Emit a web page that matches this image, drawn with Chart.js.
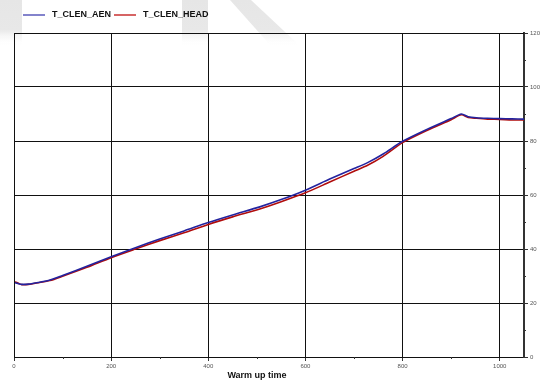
<!DOCTYPE html>
<html>
<head>
<meta charset="utf-8">
<script src="https://cdn.jsdelivr.net/npm/chart.js@4/dist/chart.umd.min.js"></script>
<style>
  html, body { margin: 0; padding: 0; background: #fff; }
  #wrap { width: 547px; height: 382px; position: relative; }
</style>
</head>
<body>
<div id="wrap"><canvas id="c" width="547" height="382"></canvas></div>
<script>
// Warm-up run: sample times and the two clean-side temperature channels
const times = [0, 8, 16, 30, 50, 74, 100, 150, 200, 250, 300, 350, 400, 450, 506, 550, 600, 650, 700, 728, 760, 800, 850, 900, 921, 935, 952, 975, 1000, 1025, 1050];
const tClenAen = [27.6, 27.2, 26.9, 27.0, 27.6, 28.5, 30.2, 33.6, 37.1, 40.5, 43.7, 46.7, 49.8, 52.6, 55.6, 58.3, 61.8, 65.9, 69.8, 72.0, 75.2, 79.9, 84.3, 88.3, 90.0, 89.0, 88.6, 88.4, 88.3, 88.2, 88.1];
const tClenHead = [27.9, 27.4, 26.8, 26.9, 27.5, 28.3, 29.9, 33.2, 36.8, 40.0, 43.1, 46.0, 49.1, 51.9, 54.8, 57.5, 60.8, 64.8, 68.8, 71.0, 74.3, 79.4, 83.9, 87.9, 89.7, 88.7, 88.4, 88.1, 88.0, 87.8, 87.8];

const seriesNames = ['T_CLEN_AEN', 'T_CLEN_HEAD'];
const seriesColors = ['#23239f', '#b00c0c'];
const legendColors = ['#4040b0', '#c01010'];

const xMajorStep = 200, xMinorStep = 100;
const yMajorStep = 20, yMinorStep = 10;
const xTitle = 'Warm up time';

const FONT = '"Liberation Sans", Arial, Helvetica, sans-serif';

const toPoints = (vals) => times.map((t, i) => ({ x: t, y: vals[i] }));

const decor = {
  id: 'decor',
  beforeDraw(chart) {
    const ctx = chart.ctx;
    ctx.save();
    // faint background lettering at the top of the sheet
    const g = ctx.createLinearGradient(0, 0, 0, 46);
    g.addColorStop(0, '#e6e6e6');
    g.addColorStop(0.65, '#e8e8e8');
    g.addColorStop(1, 'rgba(255,255,255,0)');
    ctx.fillStyle = g;
    ctx.fillRect(0, 0, 22, 46);
    ctx.fillRect(182, 0, 26, 46);
    ctx.beginPath();
    ctx.moveTo(230, 0);
    ctx.lineTo(251, 0);
    ctx.lineTo(300, 46);
    ctx.lineTo(271, 46);
    ctx.closePath();
    ctx.fill();
    ctx.restore();
  },
  afterDraw(chart) {
    const ctx = chart.ctx;
    const a = chart.chartArea;
    const xs = chart.scales.x, ys = chart.scales.y;
    ctx.save();
    // frame: left and top edges
    ctx.strokeStyle = '#111';
    ctx.lineWidth = 1;
    ctx.beginPath();
    ctx.moveTo(Math.round(a.left) + 0.5, a.top);
    ctx.lineTo(Math.round(a.left) + 0.5, a.bottom);
    ctx.moveTo(a.left, Math.round(a.top) + 0.5);
    ctx.lineTo(a.right, Math.round(a.top) + 0.5);
    ctx.stroke();

    // minor tick marks
    ctx.strokeStyle = '#333';
    ctx.beginPath();
    for (let v = xMinorStep; v < xs.max; v += xMajorStep) {
      const px = Math.round(xs.getPixelForValue(v)) + 0.5;
      ctx.moveTo(px, a.bottom);
      ctx.lineTo(px, a.bottom + 2);
    }
    for (let v = yMinorStep; v < ys.max; v += yMajorStep) {
      const py = Math.round(ys.getPixelForValue(v)) + 0.5;
      ctx.moveTo(a.right, py);
      ctx.lineTo(a.right + 2, py);
    }
    ctx.stroke();

    // legend
    ctx.font = 'bold 9px ' + FONT;
    ctx.textBaseline = 'middle';
    let lx = 23;
    const ly = 15;
    chart.data.datasets.forEach((ds, i) => {
      ctx.strokeStyle = legendColors[i];
      ctx.lineWidth = 1.3;
      ctx.beginPath();
      ctx.moveTo(lx, ly);
      ctx.lineTo(lx + 22, ly);
      ctx.stroke();
      ctx.fillStyle = '#111';
      ctx.fillText(ds.label, lx + 29, ly);
      lx += 29 + ctx.measureText(ds.label).width + 3;
    });

    // x axis title
    ctx.font = 'bold 9px ' + FONT;
    ctx.textAlign = 'center';
    ctx.fillStyle = '#111';
    ctx.fillText(xTitle, 257, 376);
    ctx.restore();
  }
};

new Chart(document.getElementById('c'), {
  type: 'line',
  data: {
    datasets: [
      { label: seriesNames[0], data: toPoints(tClenAen), borderColor: seriesColors[0], backgroundColor: seriesColors[0], borderWidth: 1.6, pointRadius: 0, tension: 0.25, fill: false },
      { label: seriesNames[1], data: toPoints(tClenHead), borderColor: seriesColors[1], backgroundColor: seriesColors[1], borderWidth: 1.6, pointRadius: 0, tension: 0.25, fill: false }
    ]
  },
  options: {
    responsive: false,
    animation: false,
    devicePixelRatio: 1,
    layout: { padding: { left: 14, top: 33, right: 0, bottom: 0 } },
    plugins: { legend: { display: false }, tooltip: { enabled: false } },
    scales: {
      x: {
        type: 'linear',
        min: 0,
        max: 1050,
        afterFit: (s) => { s.height = 25; },
        border: { display: true, color: '#111', width: 1 },
        grid: {
          color: (c) => (c.tick && c.tick.value % xMajorStep === 0 ? '#111' : 'rgba(0,0,0,0)'),
          tickColor: (c) => (c.tick && c.tick.value % xMajorStep === 0 ? '#333' : 'rgba(0,0,0,0)'),
          tickLength: 4,
          lineWidth: 1
        },
        ticks: {
          stepSize: xMinorStep,
          autoSkip: false,
          maxRotation: 0,
          padding: 2,
          color: '#555',
          font: { family: FONT, size: 6 },
          callback: (v) => (v % xMajorStep === 0 ? String(v) : '')
        }
      },
      y: {
        type: 'linear',
        position: 'right',
        min: 0,
        max: 120,
        afterFit: (s) => { s.width = 23; },
        border: { display: true, color: '#333', width: 2 },
        grid: {
          color: (c) => (c.tick && c.tick.value % yMajorStep === 0 ? '#111' : 'rgba(0,0,0,0)'),
          tickColor: (c) => (c.tick && c.tick.value % yMajorStep === 0 ? '#333' : 'rgba(0,0,0,0)'),
          tickLength: 4,
          lineWidth: 1
        },
        ticks: {
          stepSize: yMinorStep,
          autoSkip: false,
          padding: 2,
          color: '#555',
          font: { family: FONT, size: 6 },
          callback: (v) => (v % yMajorStep === 0 ? String(v) : '')
        }
      }
    }
  },
  plugins: [decor]
});
</script>
</body>
</html>
